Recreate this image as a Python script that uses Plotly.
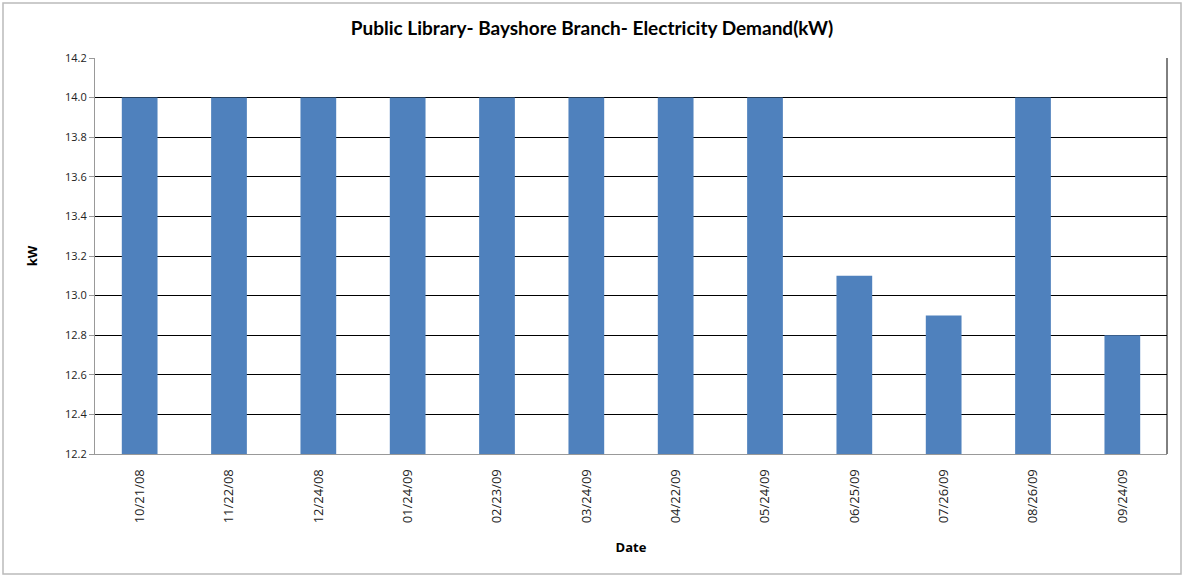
import plotly.graph_objects as go

dates = ["10/21/08", "11/22/08", "12/24/08", "01/24/09", "02/23/09", "03/24/09",
         "04/22/09", "05/24/09", "06/25/09", "07/26/09", "08/26/09", "09/24/09"]
demand_kw = [14.0, 14.0, 14.0, 14.0, 14.0, 14.0, 14.0, 14.0, 13.1, 12.9, 14.0, 12.8]

fig = go.Figure(go.Bar(x=dates, y=demand_kw, marker=dict(color="#4F81BD", line=dict(width=0))))

fig.update_layout(
    width=1184, height=577,
    margin=dict(l=95, r=17, t=58, b=123),
    paper_bgcolor="white", plot_bgcolor="white",
    bargap=0.6,
    showlegend=False,
    title=dict(text="<b>Public Library- Bayshore Branch- Electricity Demand(kW)</b>",
               x=0.5, xanchor="center", y=1 - 28/577, yanchor="middle",
               font=dict(family="Lato", size=19, color="black")),
    font=dict(family="Open Sans", color="black"),
    xaxis=dict(type="category", tickangle=-90, tickfont=dict(size=13, color="#222"),
               showline=True, linecolor="#999", linewidth=1, ticks="outside",
               ticklen=9, tickcolor="rgba(0,0,0,0)",
               title=dict(text="<b>Date</b>", font=dict(size=13), standoff=20)),
    yaxis=dict(range=[12.2, 14.2], dtick=0.2, tickformat=".1f",
               showgrid=True, gridcolor="black", gridwidth=1,
               showline=True, linecolor="#999", linewidth=1, zeroline=False,
               ticks="outside", ticklen=5, tickcolor="#999",
               tickfont=dict(size=11, color="#222"),
               title=dict(text="<b>kW</b>", font=dict(size=13), standoff=24)),
    shapes=[
        dict(type="line", xref="x domain", yref="y domain", x0=1, x1=1, y0=0, y1=1,
             line=dict(color="black", width=1)),
        dict(type="rect", xref="paper", yref="paper", x0=-92/1072, x1=1 + 14/1072,
             y0=-120/396, y1=1 + 55/396, line=dict(color="#BBBBBB", width=1.5)),
    ],
)

fig.write_html("out.html")
